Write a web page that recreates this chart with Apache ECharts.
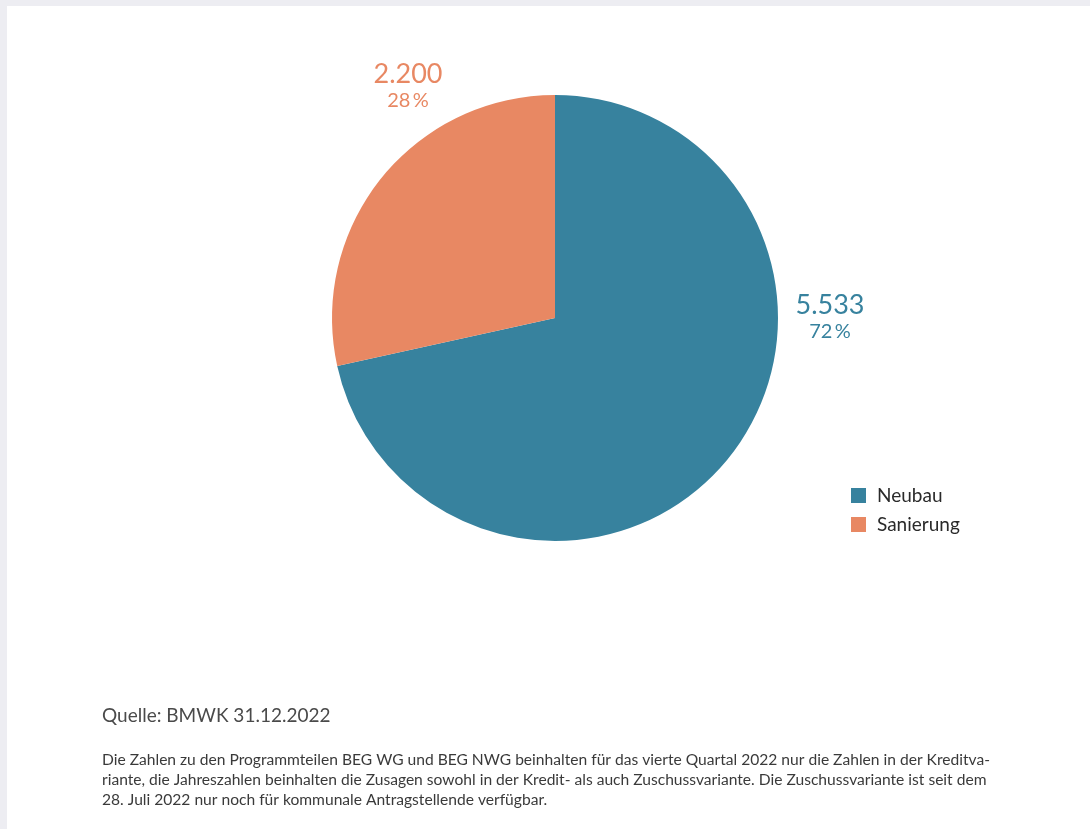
<!DOCTYPE html>
<html><head><meta charset="utf-8">
<script src="https://cdn.jsdelivr.net/npm/echarts@6/dist/echarts.min.js"></script>
<style>
html,body{margin:0;padding:0;background:#ededf2;width:1090px;height:829px;overflow:hidden;}
#chart{position:absolute;left:7px;top:6px;width:1083px;height:823px;background:#fff;}
</style></head>
<body><div id="chart"></div>
<script>
const categories = ['Neubau', 'Sanierung'];
const values = [5533, 2200];
const colors = ['#37829e', '#e88863'];
const sourceText = 'Quelle: BMWK 31.12.2022';
const noteLines = [
  'Die Zahlen zu den Programmteilen BEG WG und BEG NWG beinhalten für das vierte Quartal 2022 nur die Zahlen in der Kreditva-',
  'riante, die Jahreszahlen beinhalten die Zusagen sowohl in der Kredit- als auch Zuschussvariante. Die Zuschussvariante ist seit dem',
  '28. Juli 2022 nur noch für kommunale Antragstellende verfügbar.'
];

const fmt = v => String(v).replace(/\B(?=(\d{3})+(?!\d))/g, '.');
const labelPos = [{x: 823, y: 311}, {x: 401, y: 80}];

const chart = echarts.init(document.getElementById('chart'));
chart.setOption({
  backgroundColor: '#ffffff',
  animation: false,
  textStyle: {fontFamily: 'Lato'},
  title: [
    {text: sourceText, left: 95, top: 700, padding: 0,
     textStyle: {fontFamily: 'Lato', fontSize: 19, fontWeight: 'normal', color: '#4a4a4a'}},
    {text: noteLines.join('\n'), left: 95, top: 744, padding: 0,
     textStyle: {fontFamily: 'Lato', fontSize: 15.6, fontWeight: 'normal', color: '#3a3a3a', lineHeight: 20}}
  ],
  legend: {
    orient: 'vertical', left: 844, top: 480, padding: 0,
    itemWidth: 15, itemHeight: 15, itemGap: 10,
    icon: 'rect',
    textStyle: {fontFamily: 'Lato', fontSize: 19, color: '#2a2a2a', padding: [0, 0, 0, 6]},
    data: categories
  },
  series: [{
    type: 'pie',
    center: [548, 312],
    radius: [0, 223],
    startAngle: 90,
    clockwise: true,
    avoidLabelOverlap: false,
    data: categories.map((c, i) => ({name: c, value: values[i], itemStyle: {color: colors[i]}})),
    label: {
      show: true,
      position: 'outside',
      formatter: p => '{v|' + fmt(p.value) + '}\n{p|' + Math.round(p.percent) + '\u2009%}',
      rich: {
        v: {fontFamily: 'Lato', fontSize: 27, lineHeight: 30, align: 'center'},
        p: {fontFamily: 'Lato', fontSize: 20, lineHeight: 24, align: 'center'}
      },
      color: 'inherit'
    },
    labelLine: {show: false},
    labelLayout: params => ({
      x: labelPos[params.dataIndex].x,
      y: labelPos[params.dataIndex].y,
      align: 'center',
      verticalAlign: 'middle'
    }),
    emphasis: {disabled: true}
  }]
});
</script></body></html>
